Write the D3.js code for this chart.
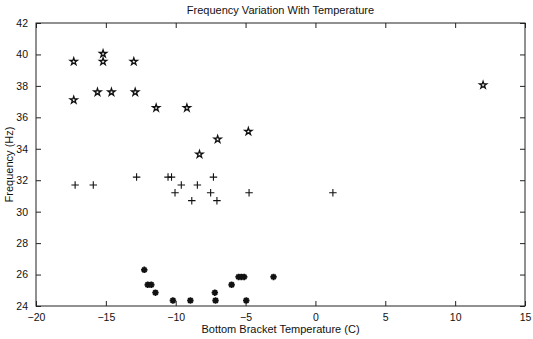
<!DOCTYPE html>
<html>
<head>
<meta charset="utf-8">
<script src="https://cdn.jsdelivr.net/npm/d3@7"></script>
<style>
  body { margin: 0; background: #fff; }
  svg { font-family: "Liberation Sans", Arial, Helvetica, sans-serif; }
  .axis text { font-size: 10.5px; fill: #111; }
  .axis path, .axis line { stroke: #222; }
</style>
</head>
<body>
<svg id="chart" width="533" height="339"></svg>
<script>
// star series (upper group)
let starTemp = [-17.3, -17.3, -15.2, -15.2, -15.6, -14.6, -13.0, -12.9, -11.4, -9.2, -8.3, -7.0, -4.8, 12.0];
let starFreq = [39.55, 37.1, 40.05, 39.55, 37.6, 37.6, 39.55, 37.6, 36.6, 36.6, 33.65, 34.6, 35.1, 38.05];

// plus series (middle group)
let plusTemp = [-17.2, -15.9, -12.8, -10.55, -10.3, -9.6, -10.05, -8.45, -8.85, -7.3, -7.5, -7.05, -4.75, 1.25];
let plusFreq = [31.7, 31.7, 32.2, 32.2, 32.2, 31.7, 31.2, 31.7, 30.7, 32.2, 31.2, 30.7, 31.2, 31.2];

// asterisk series (lower group)
let astTemp = [-12.25, -12.0, -11.75, -11.45, -10.2, -8.95, -7.2, -7.15, -6.0, -5.5, -5.3, -5.1, -4.95, -3.0];
let astFreq = [26.3, 25.35, 25.35, 24.85, 24.35, 24.35, 24.85, 24.35, 25.35, 25.85, 25.85, 25.85, 24.35, 25.85];

let xTicks = [-20, -15, -10, -5, 0, 5, 10, 15];
let yTicks = [24, 26, 28, 30, 32, 34, 36, 38, 40, 42];

let svg = d3.select('#chart');
let margin = {left: 36, right: 8, top: 23, bottom: 33};
let w = 533 - margin.left - margin.right;
let h = 339 - margin.top - margin.bottom;

let x = d3.scaleLinear().domain([-20, 15]).range([0, w]);
let y = d3.scaleLinear().domain([24, 42]).range([h, 0]);

let g = svg.append('g').attr('transform', 'translate(' + margin.left + ',' + margin.top + ')');

// MATLAB style box with inward ticks on all sides
g.append('rect')
    .attr('width', w).attr('height', h)
    .attr('fill', 'none').attr('stroke', '#222').attr('stroke-width', 1);

g.append('g').attr('class', 'axis')
    .attr('transform', 'translate(0,' + h + ')')
    .call(d3.axisBottom(x).tickValues(xTicks).tickSize(-5).tickPadding(8)
        .tickFormat(d => d < 0 ? '\u2212' + Math.abs(d) : d))
    .call(a => a.select('.domain').remove());
g.append('g').attr('class', 'axis')
    .call(d3.axisTop(x).tickValues(xTicks).tickSize(-5).tickFormat(''))
    .call(a => a.select('.domain').remove());
g.append('g').attr('class', 'axis')
    .call(d3.axisLeft(y).tickValues(yTicks).tickSize(-5).tickPadding(8))
    .call(a => a.select('.domain').remove());
g.append('g').attr('class', 'axis')
    .attr('transform', 'translate(' + w + ',0)')
    .call(d3.axisRight(y).tickValues(yTicks).tickSize(-5).tickFormat(''))
    .call(a => a.select('.domain').remove());

// custom marker shapes
let plusShape = {
    draw(ctx, size) {
        let r = Math.sqrt(size) / 2;
        ctx.moveTo(-r, 0); ctx.lineTo(r, 0);
        ctx.moveTo(0, -r); ctx.lineTo(0, r);
    }
};
let asteriskShape = {
    draw(ctx, size) {
        let r = Math.sqrt(size) / 2;
        for (let i = 0; i < 4; i++) {
            let a = i * Math.PI / 4;
            ctx.moveTo(-r * Math.cos(a), -r * Math.sin(a));
            ctx.lineTo(r * Math.cos(a), r * Math.sin(a));
        }
    }
};

function drawSeries(xs, ys, type, size, fill, sw) {
    g.append('g').selectAll('path')
        .data(xs.map((d, i) => [d, ys[i]]))
        .enter()
        .append('path')
        .attr('transform', d => 'translate(' + x(d[0]) + ',' + y(d[1]) + ')')
        .attr('d', d3.symbol().type(type).size(size))
        .attr('fill', fill)
        .attr('stroke', '#111')
        .attr('stroke-width', sw);
}

drawSeries(starTemp, starFreq, d3.symbolStar, 16, '#fff', 1.3);
drawSeries(plusTemp, plusFreq, plusShape, 56, 'none', 1.1);
drawSeries(astTemp, astFreq, asteriskShape, 42, 'none', 1.8);

// titles
svg.append('text')
    .attr('x', margin.left + w / 2).attr('y', 14)
    .attr('text-anchor', 'middle').attr('font-size', '11px').attr('fill', '#111')
    .text('Frequency Variation With Temperature');
svg.append('text')
    .attr('x', margin.left + w / 2).attr('y', 333)
    .attr('text-anchor', 'middle').attr('font-size', '11px').attr('fill', '#111')
    .text('Bottom Bracket Temperature (C)');
svg.append('text')
    .attr('transform', 'translate(13,' + (margin.top + h / 2) + ') rotate(-90)')
    .attr('text-anchor', 'middle').attr('font-size', '11px').attr('fill', '#111')
    .text('Frequency (Hz)');
</script>
</body>
</html>
